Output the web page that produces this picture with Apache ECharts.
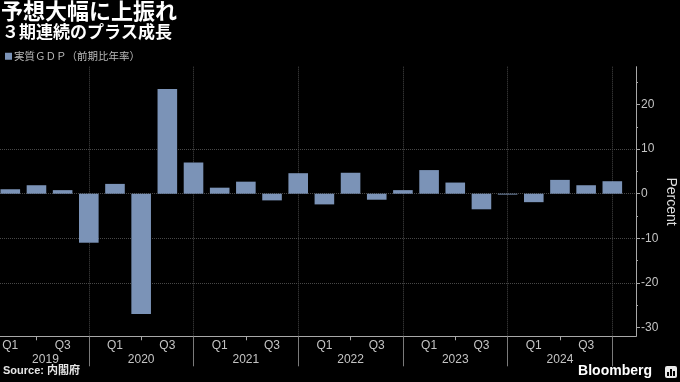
<!DOCTYPE html>
<html><head><meta charset="utf-8">
<script src="https://cdn.jsdelivr.net/npm/echarts@6/dist/echarts.min.js"></script>
<style>html,body{margin:0;padding:0;background:#000;}#c{width:680px;height:382px;}</style>
</head><body><div id="c"></div>
<script>
// ---- data ----
const years = ['2019', '2020', '2021', '2022', '2023', '2024'];
const quarters = ['Q1', 'Q2', 'Q3', 'Q4'];
const gdp = [1.0, 1.9, 0.8, -11.0, 2.2, -27.0, 23.5, 7.0, 1.35, 2.7, -1.5, 4.6,
             -2.4, 4.7, -1.35, 0.8, 5.3, 2.5, -3.5, -0.2, -1.9, 3.1, 1.9, 2.8];
const yTicks = [-30, -20, -10, 0, 10, 20];
const yMinorTicks = [-25, -15, -5, 5, 15, 25];
const seriesName = '実質ＧＤＰ（前期比年率）';

const categories = [];
years.forEach(y => quarters.forEach(q => categories.push(y + ' ' + q)));

const FONT = "'Liberation Sans','Noto Sans CJK JP',sans-serif";
const CJK = "'Noto Sans CJK JP',sans-serif";
const TOP = 66.7, BOTTOM = 45.7;
const YMIN = -32, YMAX = 28.5;
const LABEL = '#c4c4c4';
const AXIS = '#a8a8a8';
const GRIDC = '#474747';

const chart = echarts.init(document.getElementById('c'), null, {renderer: 'canvas'});
chart.setOption({
  backgroundColor: '#000',
  animation: false,
  textStyle: {fontFamily: FONT},
  title: [
    {text: '予想大幅に上振れ', left: 1, top: 0, padding: 0,
     textStyle: {color: '#fff', fontSize: 22, fontWeight: 'bold', fontFamily: CJK}},
    {text: '３期連続のプラス成長', left: 2, top: 23, padding: 0,
     textStyle: {color: '#fff', fontSize: 17, fontWeight: 'bold', fontFamily: CJK}},
    {text: 'Source: 内閣府', left: 3, top: 365, padding: 0,
     textStyle: {color: '#e6e6e6', fontSize: 11, fontWeight: 'bold', fontFamily: FONT}},
    {text: 'Bloomberg', right: 28, top: 364, padding: 0,
     textStyle: {color: '#fff', fontSize: 14, fontWeight: 'bold', fontFamily: FONT}}
  ],
  legend: {
    left: 5, top: 51, padding: 0, icon: 'rect', itemWidth: 7, itemHeight: 7, itemGap: 10,
    textStyle: {color: '#bbbbbb', fontSize: 10.5, fontFamily: CJK, padding: [0, 0, 0, -3]},
    data: [seriesName]
  },
  grid: [
    {left: 0, right: 44, top: TOP, bottom: BOTTOM, outerBoundsMode: 'none', containLabel: false},
    {left: -2.8, right: 54.6, top: TOP, bottom: BOTTOM, outerBoundsMode: 'none', containLabel: false}
  ],
  xAxis: [
    {type: 'value', gridIndex: 0, position: 'bottom', min: 0, max: 1,
     axisLine: {show: true, onZero: false, lineStyle: {color: AXIS, width: 1}},
     axisTick: {show: false}, axisLabel: {show: false}, splitLine: {show: false}},
    {type: 'category', gridIndex: 1, position: 'bottom', data: categories,
     axisLine: {show: false, onZero: false},
     axisTick: {show: true, alignWithLabel: true, interval: (i) => i % 4 === 1, length: 4,
                lineStyle: {color: AXIS}},
     axisLabel: {interval: (i) => i % 2 === 0, formatter: (v, i) => quarters[i % 4],
                 color: LABEL, fontSize: 12, margin: 3},
     splitLine: {show: false}},
    {type: 'category', gridIndex: 1, position: 'bottom', data: categories,
     axisLine: {show: false, onZero: false},
     axisTick: {show: true, alignWithLabel: true, interval: (i) => i % 4 === 3, length: 30,
                lineStyle: {color: '#7a7a7a'}},
     axisLabel: {interval: (i) => i % 4 === 1,
                 formatter: (v, i) => (i === 1 ? '{a|' : '{b|') + years[Math.floor(i / 4)] + '}',
                 margin: 17,
                 rich: {a: {color: LABEL, fontSize: 12, padding: [0, 0, 0, 18]},
                        b: {color: LABEL, fontSize: 12}}},
     splitLine: {show: true, interval: (i) => i % 4 === 3, alignWithLabel: true,
                 lineStyle: {color: GRIDC, type: 'dotted'}}}
  ],
  yAxis: [
    {type: 'value', gridIndex: 0, position: 'right', min: YMIN, max: YMAX,
     axisLine: {show: true, onZero: false, lineStyle: {color: AXIS}},
     axisTick: {show: true, customValues: yTicks, length: 4, lineStyle: {color: AXIS}},
     axisLabel: {customValues: yTicks, color: LABEL, fontSize: 12, margin: 5},
     splitLine: {show: true, showMinLine: false, showMaxLine: false,
                 lineStyle: {color: GRIDC, type: 'dotted'}},
     name: 'Percent', nameLocation: 'middle', nameRotate: -90, nameGap: 28,
     nameMoveOverlap: false,
     nameTextStyle: {color: '#dddddd', fontSize: 14}},
    {type: 'value', gridIndex: 0, position: 'right', min: YMIN, max: YMAX,
     axisLine: {show: false, onZero: false},
     axisTick: {show: true, customValues: yMinorTicks, length: 2, lineStyle: {color: AXIS}},
     axisLabel: {show: false}, splitLine: {show: false}},
    {type: 'value', gridIndex: 1, show: false, min: YMIN, max: YMAX,
     axisLine: {onZero: false}, splitLine: {show: false}}
  ],
  series: [{
    name: seriesName, type: 'bar', xAxisIndex: 1, yAxisIndex: 2,
    data: gdp, barWidth: 19.6,
    itemStyle: {color: '#7b93b7'}
  }],
  graphic: [{
    type: 'group', right: 3, top: 366,
    children: [
      {type: 'rect', shape: {x: 0, y: 0, width: 12, height: 12, r: 2}, style: {fill: '#e8e8e8'}},
      {type: 'rect', shape: {x: 2, y: 6, width: 2, height: 4}, style: {fill: '#000'}},
      {type: 'rect', shape: {x: 5, y: 3, width: 2, height: 7}, style: {fill: '#000'}},
      {type: 'rect', shape: {x: 8, y: 5, width: 2, height: 5}, style: {fill: '#000'}}
    ]
  }]
});
</script>
</body></html>
